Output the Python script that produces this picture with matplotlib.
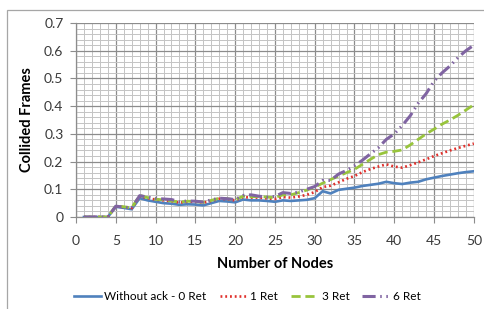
import matplotlib
matplotlib.use("Agg")
import matplotlib.pyplot as plt
from matplotlib.patches import Rectangle
from matplotlib.ticker import MultipleLocator
import numpy as np

# number of nodes
nodes = list(range(1, 51))

# collided frames
ret0 = [0, 0, 0, 0, 0.037, 0.033, 0.028, 0.068, 0.060, 0.055,
        0.050, 0.048, 0.044, 0.046, 0.045, 0.042, 0.050, 0.058, 0.056, 0.053,
        0.063, 0.060, 0.060, 0.058, 0.055, 0.060, 0.058, 0.060, 0.062, 0.068,
        0.093, 0.085, 0.098, 0.102, 0.106, 0.112, 0.116, 0.120, 0.127, 0.122,
        0.119, 0.124, 0.127, 0.136, 0.142, 0.148, 0.153, 0.158, 0.162, 0.165]
ret1 = [0, 0, 0, 0, 0.038, 0.036, 0.032, 0.075, 0.068, 0.063,
        0.060, 0.057, 0.052, 0.055, 0.055, 0.052, 0.058, 0.066, 0.064, 0.060,
        0.072, 0.070, 0.070, 0.067, 0.065, 0.072, 0.070, 0.074, 0.080, 0.090,
        0.108, 0.113, 0.125, 0.138, 0.148, 0.162, 0.173, 0.182, 0.190, 0.182,
        0.178, 0.187, 0.197, 0.208, 0.220, 0.230, 0.240, 0.249, 0.257, 0.265]
ret3 = [0, 0, 0, 0, 0.040, 0.037, 0.033, 0.078, 0.070, 0.064,
        0.062, 0.058, 0.054, 0.057, 0.056, 0.053, 0.060, 0.068, 0.066, 0.062,
        0.075, 0.073, 0.074, 0.072, 0.070, 0.080, 0.080, 0.088, 0.097, 0.108,
        0.122, 0.135, 0.148, 0.160, 0.172, 0.190, 0.208, 0.225, 0.234, 0.237,
        0.242, 0.260, 0.280, 0.300, 0.317, 0.335, 0.350, 0.367, 0.386, 0.405]
ret6 = [0, 0, 0, 0, 0.039, 0.036, 0.032, 0.077, 0.072, 0.067,
        0.065, 0.063, 0.055, 0.058, 0.057, 0.054, 0.062, 0.068, 0.066, 0.063,
        0.078, 0.080, 0.075, 0.072, 0.074, 0.088, 0.085, 0.090, 0.100, 0.110,
        0.132, 0.132, 0.155, 0.168, 0.185, 0.205, 0.228, 0.250, 0.280, 0.300,
        0.330, 0.365, 0.410, 0.445, 0.490, 0.520, 0.545, 0.575, 0.600, 0.620]

plt.rcParams['font.family'] = ['Lato', 'DejaVu Sans']

fig = plt.figure(figsize=(4.85, 3.09), dpi=100)
ax = fig.add_axes([0.1567, 0.2977, 0.8203, 0.6279])

# outer chart border
fig.patches.append(Rectangle((7/485, -0.1), 1.2, 1 - 10/309 + 0.1, transform=fig.transFigure,
                             fill=False, edgecolor="#a6a6a6", linewidth=0.9))

ax.plot(nodes, ret0, color="#4f81bd", linewidth=1.9, label="Without ack - 0 Ret", zorder=3)
ax.plot(nodes, ret1, color="#e0302c", linewidth=1.9, linestyle=(0, (0.7, 1.1)),
        label="1 Ret", zorder=4)
ax.plot(nodes, ret3, color="#98c43c", linewidth=2.0, linestyle=(0, (3.3, 1.7)),
        label="3 Ret", zorder=5)
ax.plot(nodes, ret6, color="#8064a2", linewidth=2.2, linestyle=(0, (4.3, 1.5, 0.5, 1.5, 0.5, 1.5)),
        label="6 Ret", zorder=6)

ax.set_xlim(0, 50)
ax.set_ylim(0, 0.7)
ax.xaxis.set_major_locator(MultipleLocator(5))
ax.xaxis.set_minor_locator(MultipleLocator(1))
ax.yaxis.set_major_locator(MultipleLocator(0.1))
ax.yaxis.set_minor_locator(MultipleLocator(0.02))
ax.set_yticks(np.arange(0, 0.71, 0.1))
ax.set_yticklabels(["0", "0.1", "0.2", "0.3", "0.4", "0.5", "0.6", "0.7"])

ax.grid(which="major", color="#8c8c8c", linewidth=0.9)
ax.grid(which="minor", color="#c4c4c4", linewidth=0.7)
ax.set_axisbelow(True)

for s in ["top", "right"]:
    ax.spines[s].set_visible(False)
for s in ["left", "bottom"]:
    ax.spines[s].set_color("#8c8c8c")
    ax.spines[s].set_linewidth(0.9)

ax.tick_params(which="major", axis="both", direction="out", length=4, color="#8c8c8c",
               labelsize=10, labelcolor="#3a3a3a")
ax.tick_params(axis="y", pad=5)
ax.tick_params(axis="x", pad=9)
ax.tick_params(which="minor", length=0)

ax.set_xlabel("Number of Nodes", fontsize=10.5, fontweight="bold", labelpad=7)
ax.set_ylabel("Collided Frames", fontsize=10.5, fontweight="bold", labelpad=7)

fig.legend(loc="center", bbox_to_anchor=(0.51, 1 - 297/309), ncol=4, frameon=False,
           fontsize=8.5, handlelength=2.3, columnspacing=1.1, handletextpad=0.3)

fig.savefig("out.png", dpi=100)
plt.close(fig)
